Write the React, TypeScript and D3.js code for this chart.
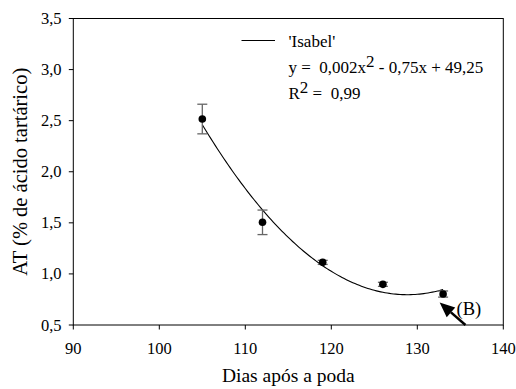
import React from "react";
import * as d3 from "d3";

const days = [105, 112, 119, 126, 133];
const atValues = [2.516, 1.505, 1.113, 0.898, 0.803];
const atErrors = [0.145, 0.12, 0.02, 0.02, 0.03];
const xTicks = [90, 100, 110, 120, 130, 140];
const yTicks = [0.5, 1.0, 1.5, 2.0, 2.5, 3.0, 3.5];
const legendLabel = "'Isabel'";
const eqPart1 = "y =  0,002x";
const eqPart2 = " - 0,75x + 49,25";
const r2Label = " =  0,99";
const arrowTail = [135.6, 0.5];
const arrowTip = [132.6, 0.72];

const W = 516;
const H = 389;
const FONT = "Liberation Serif";

function quadFit(xs: number[], ys: number[]) {
  const mx = d3.mean(xs) as number;
  const t = xs.map((x) => x - mx);
  const n = xs.length;
  const s1 = d3.sum(t), s2 = d3.sum(t, (v) => v * v), s3 = d3.sum(t, (v) => v ** 3), s4 = d3.sum(t, (v) => v ** 4);
  const sy = d3.sum(ys), sty = d3.sum(t, (v, i) => v * ys[i]), st2y = d3.sum(t, (v, i) => v * v * ys[i]);
  const A = [
    [n, s1, s2, sy],
    [s1, s2, s3, sty],
    [s2, s3, s4, st2y],
  ];
  for (let i = 0; i < 3; i++) {
    for (let k = i + 1; k < 3; k++) {
      const f = A[k][i] / A[i][i];
      for (let j = i; j < 4; j++) A[k][j] -= f * A[i][j];
    }
  }
  const c = A[2][3] / A[2][2];
  const b = (A[1][3] - A[1][2] * c) / A[1][1];
  const a = (A[0][3] - A[0][1] * b - A[0][2] * c) / A[0][0];
  return (x: number) => a + b * (x - mx) + c * (x - mx) ** 2;
}

export default function App() {
  const x = d3.scaleLinear().domain([90, 140]).range([73.3, 503.3]);
  const y = d3.scaleLinear().domain([0.5, 3.5]).range([325, 18.5]);
  const loc = d3.formatLocale({ decimal: ",", thousands: ".", grouping: [3], currency: ["", ""] });
  const fy = loc.format(".1f");
  const fit = quadFit(days, atValues);
  const xs = d3.range(days[0], days[days.length - 1] + 0.001, 0.25);
  const line = d3
    .line<number>()
    .x((d) => x(d))
    .y((d) => y(fit(d)));

  const [x0, x1] = x.range();
  const [y0, y1] = y.range();

  const tx = x(arrowTail[0]), ty = y(arrowTail[1]);
  const hx = x(arrowTip[0]), hy = y(arrowTip[1]);
  const ang = Math.atan2(hy - ty, hx - tx);
  const headLen = 15, headW = 6.5;
  const bx = hx - headLen * Math.cos(ang), by = hy - headLen * Math.sin(ang);
  const px = -Math.sin(ang), py = Math.cos(ang);

  const ts = { fontFamily: FONT, whiteSpace: "pre" as const };

  return (
    <svg width={W} height={H} style={{ position: "absolute", left: 0, top: 0, background: "#fff" }}>
      <rect x={0} y={0} width={W} height={H} fill="#fff" />
      <rect x={x0} y={y1} width={x1 - x0} height={y0 - y1} fill="none" stroke="#000" strokeWidth={1} />
      {xTicks.map((t) => (
        <g key={"xt" + t}>
          <line x1={x(t)} x2={x(t)} y1={y0} y2={y0 + 4.5} stroke="#000" />
          <text x={x(t)} y={353.5} textAnchor="middle" fontSize={16.5} style={ts}>
            {t}
          </text>
        </g>
      ))}
      {yTicks.map((t) => (
        <g key={"yt" + t}>
          <line x1={x0 - 4.5} x2={x0} y1={y(t)} y2={y(t)} stroke="#000" />
          <text x={61.5} y={y(t) + 5.5} textAnchor="end" fontSize={16.5} style={ts}>
            {fy(t)}
          </text>
        </g>
      ))}
      <text x={(x0 + x1) / 2} y={382} textAnchor="middle" fontSize={19.5} style={ts}>
        Dias após a poda
      </text>
      <text transform={`translate(26.5,${(y0 + y1) / 2}) rotate(-90)`} textAnchor="middle" fontSize={20.5} style={ts}>
        AT (% de ácido tartárico)
      </text>
      <path d={line(xs) || ""} fill="none" stroke="#000" strokeWidth={1.1} />
      {days.map((d, i) => {
        const cx = x(d);
        const top = y(atValues[i] + atErrors[i]);
        const bot = y(atValues[i] - atErrors[i]);
        return (
          <g key={"eb" + d} stroke="#666" strokeWidth={1.3}>
            <line x1={cx} x2={cx} y1={top} y2={bot} />
            <line x1={cx - 5} x2={cx + 5} y1={top} y2={top} />
            <line x1={cx - 5} x2={cx + 5} y1={bot} y2={bot} />
          </g>
        );
      })}
      {days.map((d, i) => (
        <circle key={"pt" + d} cx={x(d)} cy={y(atValues[i])} r={3.8} fill="#000" />
      ))}
      <line x1={241.5} x2={275} y1={40.5} y2={40.5} stroke="#000" />
      <text x={288.5} y={47.3} fontSize={17} style={ts}>
        {legendLabel}
      </text>
      <text x={288.5} y={73.3} fontSize={17} style={ts}>
        {eqPart1}
        <tspan dy={-6}>2</tspan>
        <tspan dy={6}>{eqPart2}</tspan>
      </text>
      <text x={288.5} y={98.5} fontSize={17} style={ts}>
        R<tspan dy={-6}>2</tspan>
        <tspan dy={6}>{r2Label}</tspan>
      </text>
      <line x1={tx} y1={ty} x2={bx} y2={by} stroke="#000" strokeWidth={2.5} />
      <polygon
        points={`${hx},${hy} ${bx + px * headW},${by + py * headW} ${bx - px * headW},${by - py * headW}`}
        fill="#000"
      />
      <text x={456.5} y={315} fontSize={18.5} style={ts}>
        (B)
      </text>
    </svg>
  );
}
